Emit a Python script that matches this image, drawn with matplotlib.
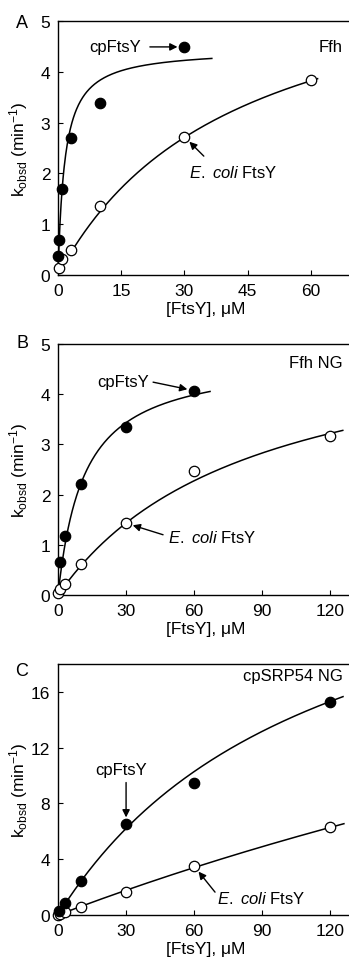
import numpy as np
import matplotlib
matplotlib.use("Agg")
import matplotlib.pyplot as plt

plt.rcParams['font.family'] = ['Liberation Sans', 'DejaVu Sans']
plt.rcParams['mathtext.fontset'] = 'custom'
plt.rcParams['mathtext.rm'] = 'Liberation Sans'
plt.rcParams['mathtext.it'] = 'Liberation Sans:italic'

# ---------------- data ----------------
# Panel A: Ffh
a_cp_x = [0.1, 0.3, 1, 3, 10, 30]
a_cp_y = [0.37, 0.69, 1.69, 2.70, 3.39, 4.49]
a_ec_x = [0.3, 1, 3, 10, 30, 60]
a_ec_y = [0.14, 0.31, 0.49, 1.36, 2.72, 3.83]
a_cp_fit = (4.45, 1.6, 0.0, 36.5)    # kmax, K, xstart, xend
a_ec_fit = (6.5, 42.0, 2.8, 61.6)

# Panel B: Ffh NG
b_cp_x = [1, 3, 10, 30, 60]
b_cp_y = [0.66, 1.18, 2.22, 3.35, 4.07]
b_ec_x = [0.1, 1, 3, 10, 30, 60, 120]
b_ec_y = [0.04, 0.11, 0.22, 0.62, 1.43, 2.47, 3.16]
b_cp_fit = (4.75, 11.5, 0.0, 67.0)
b_ec_fit = (5.5, 85.0, 0.0, 125.5)

# Panel C: cpSRP54 NG
c_cp_x = [0.3, 3, 10, 30, 60, 120]
c_cp_y = [0.3, 0.84, 2.45, 6.5, 9.45, 15.25]
c_ec_x = [0.1, 1, 3, 10, 30, 60, 120]
c_ec_y = [0.0, 0.1, 0.2, 0.55, 1.68, 3.5, 6.3]
c_cp_fit = (30.0, 115.0, 0.0, 125.6)
c_ec_fit = (41.0, 663.0, 0.0, 126.0)

W, H = 349, 962
fig = plt.figure(figsize=(W / 100, H / 100), dpi=100)


def make_ax(top_px, bottom_px, left_px=58, right_px=353):
    return fig.add_axes([left_px / W, 1 - bottom_px / H,
                         (right_px - left_px) / W, (bottom_px - top_px) / H])


def mm(p):
    kmax, K, x0, x1 = p
    x = np.linspace(x0, x1, 300)
    return x, kmax * x / (K + x)


fs_tick = 12.5
fs_txt = 12


def style(ax, xlim, ylim, xticks, yticks, h_px):
    ax.set_xlim(*xlim)
    ax.set_ylim(*ylim)
    ax.set_xticks(xticks)
    ax.set_yticks(yticks)
    ax.spines['right'].set_visible(False)
    for s in ax.spines.values():
        s.set_linewidth(1.0)
    ax.tick_params(direction='in', length=3.5, width=0.8, labelsize=fs_tick)
    ax.tick_params(axis='y', pad=5.5)
    ax.tick_params(axis='x', pad=6.0)
    ax.set_xlabel('[FtsY], μM', fontsize=fs_tick)
    ax.xaxis.set_label_coords(0.5, -26 / h_px)
    ax.set_ylabel(r'k$_{\mathrm{obsd}}$ (min$^{-1}$)', fontsize=fs_tick)
    ax.yaxis.set_label_coords(-28 / 295, 0.5)


def plot_panel(ax, cpx, cpy, ecx, ecy, cpfit, ecfit):
    x, y = mm(cpfit)
    ax.plot(x, y, color='k', lw=1.1, zorder=2)
    x, y = mm(ecfit)
    ax.plot(x, y, color='k', lw=1.1, zorder=2)
    ax.plot(ecx, ecy, 'o', ms=7.5, mfc='white', mec='k', mew=0.9, zorder=3, clip_on=False)
    ax.plot(cpx, cpy, 'o', ms=7.5, mfc='k', mec='k', mew=0.9, zorder=4, clip_on=False)


arrow = dict(arrowstyle='-|>', mutation_scale=11, lw=1.0, color='k',
             shrinkA=0, shrinkB=5)
ecoli = r'$\mathit{E.\ coli}$ FtsY'

# ---- Panel A ----
axA = make_ax(22, 276)
plot_panel(axA, a_cp_x, a_cp_y, a_ec_x, a_ec_y, a_cp_fit, a_ec_fit)
style(axA, (0, 70), (0, 5), [0, 15, 30, 45, 60], [0, 1, 2, 3, 4, 5], 254)
axA.text(67.5, 4.49, 'Ffh', ha='right', va='center', fontsize=fs_txt)
axA.text(13.5, 4.49, 'cpFtsY', ha='center', va='center', fontsize=fs_txt)
axA.annotate('', xy=(30, 4.49), xytext=(21.8, 4.49), arrowprops=arrow)
axA.text(41.5, 2.03, ecoli, ha='center', va='center', fontsize=fs_txt)
axA.annotate('', xy=(30, 2.72), xytext=(34.6, 2.34), arrowprops=arrow)
fig.text(22 / W, 1 - 23 / H, 'A', ha='center', va='center', fontsize=13)

# ---- Panel B ----
axB = make_ax(345, 596)
plot_panel(axB, b_cp_x, b_cp_y, b_ec_x, b_ec_y, b_cp_fit, b_ec_fit)
style(axB, (0, 130), (0, 5), [0, 30, 60, 90, 120], [0, 1, 2, 3, 4, 5], 251)
axB.text(125.5, 4.64, 'Ffh NG', ha='right', va='center', fontsize=fs_txt)
axB.text(28.9, 4.26, 'cpFtsY', ha='center', va='center', fontsize=fs_txt)
axB.annotate('', xy=(60, 4.07), xytext=(41.9, 4.24), arrowprops=arrow)
axB.text(68, 1.16, ecoli, ha='center', va='center', fontsize=fs_txt)
axB.annotate('', xy=(30, 1.43), xytext=(46.3, 1.2), arrowprops=arrow)
fig.text(22 / W, 1 - 343 / H, 'B', ha='center', va='center', fontsize=13)

# ---- Panel C ----
axC = make_ax(665, 916)
plot_panel(axC, c_cp_x, c_cp_y, c_ec_x, c_ec_y, c_cp_fit, c_ec_fit)
style(axC, (0, 130), (0, 18), [0, 30, 60, 90, 120], [0, 4, 8, 12, 16], 251)
axC.text(125.5, 17.2, 'cpSRP54 NG', ha='right', va='center', fontsize=fs_txt)
axC.text(28, 10.4, 'cpFtsY', ha='center', va='center', fontsize=fs_txt)
axC.annotate('', xy=(30, 6.5), xytext=(30, 9.5), arrowprops=arrow)
axC.text(89.6, 1.2, ecoli, ha='center', va='center', fontsize=fs_txt)
axC.annotate('', xy=(60, 3.5), xytext=(69.2, 1.64), arrowprops=arrow)
fig.text(22 / W, 1 - 672 / H, 'C', ha='center', va='center', fontsize=13)

fig.savefig('out.png', dpi=100)
